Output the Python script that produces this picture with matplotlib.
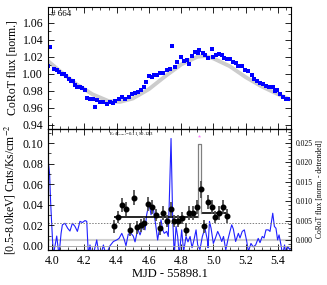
import matplotlib
matplotlib.use("Agg")
import matplotlib.pyplot as plt
from matplotlib.ticker import MultipleLocator

plt.rcParams['font.family'] = ['Liberation Serif', 'DejaVu Serif']
plt.rcParams['mathtext.fontset'] = 'stix'

# CoRoT light curve (top panel)
corot_t = [3.977, 3.988, 4.014, 4.029, 4.045, 4.062, 4.074, 4.087, 4.103, 4.116,
           4.128, 4.142, 4.157, 4.173, 4.188, 4.202, 4.219, 4.235, 4.252, 4.266,
           4.281, 4.297, 4.318, 4.342, 4.359, 4.376, 4.392, 4.413, 4.433, 4.454,
           4.475, 4.495, 4.516, 4.533, 4.549, 4.570, 4.582, 4.599, 4.617, 4.633,
           4.650, 4.669, 4.689, 4.710, 4.731, 4.741, 4.759, 4.777, 4.800, 4.817,
           4.834, 4.848, 4.867, 4.885, 4.901, 4.913, 4.932, 4.950, 4.966, 4.989,
           5.000, 5.016, 5.036, 5.051, 5.065, 5.082, 5.100, 5.119, 5.137, 5.154,
           5.175, 5.195, 5.216, 5.237, 5.253, 5.271, 5.288, 5.305, 5.325, 5.346,
           5.367, 5.381, 5.391, 5.412, 5.432, 5.449, 5.463]
corot_f = [1.009, 1.032, 1.006, 1.004, 1.002, 1.000, 1.000, 0.998, 0.994, 0.991,
           0.992, 0.987, 0.984, 0.984, 0.983, 0.981, 0.972, 0.971, 0.971, 0.961,
           0.9695, 0.967, 0.967, 0.965, 0.967, 0.966, 0.968, 0.971, 0.973, 0.971,
           0.973, 0.976, 0.978, 0.979, 0.981, 0.985, 0.990, 0.998, 0.996, 0.999,
           0.999, 1.001, 1.001, 1.004, 1.006, 1.033, 1.0075, 1.0135, 1.020, 1.0145,
           1.016, 1.011, 1.021, 1.0255, 1.024, 1.0285, 1.025, 1.0225, 1.019, 1.029,
           1.020, 1.022, 1.023, 1.022, 1.019, 1.017, 1.017, 1.014, 1.013, 1.009,
           1.009, 1.005, 1.003, 0.999, 0.994, 0.992, 0.989, 0.988, 0.986, 0.985,
           0.985, 0.980, 0.981, 0.976, 0.973, 0.971, 0.970]

# smooth trend (grey)
trend_t = [3.975, 4.05, 4.15, 4.25, 4.35, 4.42, 4.5, 4.6, 4.7, 4.8, 4.9, 4.95,
           5.0, 5.1, 5.2, 5.3, 5.4, 5.47]
trend_f = [1.015, 1.003, 0.988, 0.976, 0.968, 0.967, 0.971, 0.982, 0.997, 1.011,
           1.020, 1.021, 1.018, 1.009, 0.996, 0.985, 0.976, 0.970]

# detrended CoRoT flux (bottom panel, right axis)
det_t = [3.975, 3.985, 3.991, 3.998, 4.008, 4.029, 4.043, 4.056, 4.064, 4.080,
         4.097, 4.111, 4.126, 4.142, 4.157, 4.173, 4.188, 4.204, 4.215, 4.225,
         4.235, 4.246, 4.260, 4.277, 4.291, 4.308, 4.318, 4.334, 4.359, 4.380,
         4.401, 4.415, 4.432, 4.448, 4.458, 4.472, 4.489, 4.503, 4.514, 4.531,
         4.545, 4.565, 4.576, 4.586, 4.601, 4.613, 4.627, 4.642, 4.654, 4.664,
         4.675, 4.685, 4.695, 4.710, 4.720, 4.737, 4.747, 4.757, 4.768, 4.778,
         4.788, 4.803, 4.815, 4.830, 4.842, 4.855, 4.867, 4.879, 4.892, 4.902,
         4.916, 4.931, 4.947, 4.962, 4.966, 4.975, 4.985, 4.999, 5.012, 5.026,
         5.040, 5.051, 5.062, 5.076, 5.090, 5.102, 5.113, 5.123, 5.137, 5.154,
         5.164, 5.178, 5.191, 5.206, 5.216, 5.232, 5.246, 5.261, 5.277, 5.288,
         5.302, 5.313, 5.325, 5.339, 5.350, 5.367, 5.377, 5.387, 5.397, 5.406,
         5.418, 5.428, 5.440, 5.449, 5.459, 5.474]
det_f = [0.021, 0.017, 0.010, 0.004, -0.004, 0.001, -0.004, 0.0017, 0.0039, 0.0043,
         0.003, 0.0023, 0.0043, 0.0035, 0.0022, 0.0048, 0.0045, 0.005, 0.0048, -0.004,
         -0.0013, -0.004, -0.003, 0.0, -0.004, -0.003, -0.0013, -0.004, -0.0015, -0.0004,
         0.0, 0.0004, 0.0017, 0.0, -0.0015, 0.0015, 0.0017, 0.001, -0.0005, 0.0028,
         0.0013, 0.0039, 0.0026, 0.0065, 0.0095, 0.0065, 0.0082, 0.0039, 0.0, 0.0026,
         0.0052, 0.0026, 0.0017, 0.0022, 0.0009, 0.0262, 0.006, -0.004, 0.0035, 0.0009,
         -0.004, 0.0026, -0.003, 0.0009, -0.0005, 0.0009, -0.002, 0.0, 0.0026, -0.0013,
         -0.0025, 0.0009, 0.003, 0.0, -0.002, 0.0048, 0.003, -0.0009, 0.0005, 0.0022,
         0.0009, -0.0004, 0.0009, -0.0026, 0.0002, 0.0022, 0.0039, 0.0028, -0.0004, 0.0017,
         0.0005, 0.0022, 0.0026, -0.0004, -0.003, -0.0009, -0.0018, -0.0013, 0.0004, -0.0007,
         0.0009, 0.0005, 0.0026, 0.0026, 0.0022, 0.0069, 0.0035, 0.003, 0.0, 0.0013,
         -0.0013, -0.004, -0.0013, -0.004, -0.0017, -0.0025]

# X-ray count rate (bottom panel, left axis)
xr_t = [4.386, 4.410, 4.435, 4.458, 4.482, 4.505, 4.528, 4.551, 4.572, 4.596,
        4.617, 4.641, 4.667, 4.689, 4.712, 4.736, 4.757, 4.782, 4.803, 4.828,
        4.848, 4.871, 4.898, 4.922, 4.943, 4.968, 4.989, 5.009, 5.034, 5.057, 5.082]
xr_r = [0.019, 0.028, 0.040, 0.036, 0.016, 0.047, 0.018, 0.020, 0.022, 0.041,
        0.038, 0.030, 0.017, 0.032, 0.024, 0.036, 0.024, 0.024, 0.027, 0.016,
        0.032, 0.032, 0.038, 0.055, 0.019, 0.043, 0.038, 0.028, 0.032, 0.038, 0.029]
xr_e = [0.006, 0.006, 0.007, 0.007, 0.006, 0.007, 0.006, 0.006, 0.006, 0.007,
        0.007, 0.006, 0.006, 0.007, 0.006, 0.007, 0.006, 0.006, 0.006, 0.006,
        0.007, 0.007, 0.007, 0.008, 0.006, 0.007, 0.007, 0.006, 0.007, 0.007, 0.007]

# Bayesian blocks
blk_edges = [4.384, 4.902, 4.922, 5.085]
blk_rates = [0.0285, 0.0995, 0.0325]
flare_t = 4.912
flare_mark = 0.1066
quiet_level = 0.0222

fig = plt.figure(figsize=(3.27, 2.85), dpi=100)
ax1 = fig.add_axes([0.1468, 0.5474, 0.7431, 0.428])
ax2 = fig.add_axes([0.1468, 0.1228, 0.7431, 0.4246])

xlim = (3.975, 5.48)

# top panel
ax1.plot(trend_t, trend_f, color='#cccccc', lw=2.8, solid_capstyle='round', zorder=1)
ax1.plot(corot_t, corot_f, 's', color='#0000ff', ms=2.5, mew=0, zorder=2)
ax1.set_xlim(*xlim)
ax1.set_ylim(0.9352, 1.0785)
ax1.set_ylabel('CoRoT flux [norm.]', fontsize=8.5, labelpad=3)
ax1.text(0.012, 0.975, '# 664', transform=ax1.transAxes, fontsize=6.5, va='top', ha='left')
ax1.yaxis.set_major_locator(MultipleLocator(0.02))
ax1.yaxis.set_minor_locator(MultipleLocator(0.01))
ax1.xaxis.set_major_locator(MultipleLocator(0.2))
ax1.xaxis.set_minor_locator(MultipleLocator(0.05))
ax1.tick_params(which='both', direction='in', top=True, right=True, labelbottom=False)
ax1.tick_params(axis='y', labelsize=8.5)
ax1.tick_params(which='major', length=4, width=0.6)
ax1.tick_params(which='minor', length=2, width=0.5)

# bottom panel
ax3 = ax2.twinx()
ax3.plot(det_t, det_f, color='#2020ff', lw=0.8)
ax3.axhline(0.0, color='#d0d0d0', lw=1.5, zorder=0)
ax3.set_ylim(-0.0026, 0.02865)
ax3.set_ylabel('CoRoT flux [norm. - detrended]', fontsize=5.5, labelpad=2)
ax3.yaxis.set_major_locator(MultipleLocator(0.005))
ax3.yaxis.set_minor_locator(MultipleLocator(0.001))
ax3.tick_params(which='both', direction='in', labelsize=5.5)
ax3.tick_params(which='major', length=4, width=0.6)
ax3.tick_params(which='minor', length=2, width=0.5)

ax2.set_zorder(ax3.get_zorder() + 1)
ax2.patch.set_visible(False)

ax2.axhline(0.0, color='#a0a0a0', lw=0.6)
ax2.axhline(quiet_level, color='#808080', lw=0.7, ls=(0, (1.5, 1.5)))
ax2.hlines(blk_rates[0], blk_edges[0], blk_edges[1], color='k', lw=1.2)
ax2.hlines(blk_rates[2], blk_edges[2], blk_edges[3], color='k', lw=1.2)
ax2.plot([blk_edges[1], blk_edges[1], blk_edges[2], blk_edges[2]],
         [blk_rates[0], blk_rates[1], blk_rates[1], blk_rates[2]], color='#808080', lw=0.9)
ax2.plot([flare_t], [flare_mark], '*', color='#ff80ff', ms=2.5, mew=0)
ax2.errorbar(xr_t, xr_r, yerr=xr_e, fmt='o', color='k', ms=3.3,
             ecolor='#505050', elinewidth=1.3, capsize=0, zorder=5)
ax2.text(4.355, 0.1115, r'E$_{fl}$/E$_{quiet}$=0.11,S0.123', fontsize=3.5, va='top', ha='left')

ax2.set_xlim(*xlim)
ax2.set_ylim(-0.0039, 0.1137)
ax2.xaxis.set_major_locator(MultipleLocator(0.2))
ax2.xaxis.set_minor_locator(MultipleLocator(0.05))
ax2.yaxis.set_major_locator(MultipleLocator(0.02))
ax2.yaxis.set_minor_locator(MultipleLocator(0.01))
ax2.tick_params(which='both', direction='in', top=True)
ax2.tick_params(axis='both', labelsize=8.5)
ax2.tick_params(which='major', length=4, width=0.6)
ax2.tick_params(which='minor', length=2, width=0.5)
ax2.set_xlabel('MJD - 55898.1', fontsize=9, labelpad=1)
ax2.set_ylabel(r'[0.5-8.0keV] Cnts/Ks/cm$^{-2}$', fontsize=8.5, labelpad=3)

for a in (ax1, ax2, ax3):
    for s in a.spines.values():
        s.set_linewidth(0.8)

fig.savefig('out.png', dpi=100)
